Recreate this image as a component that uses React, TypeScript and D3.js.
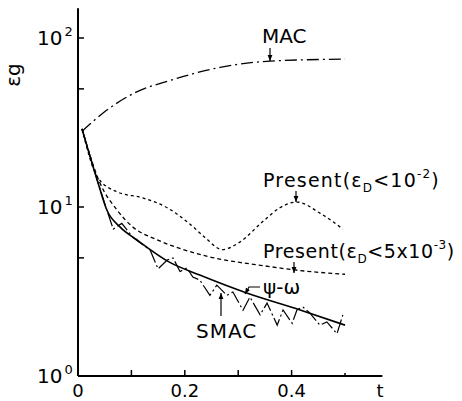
import React from 'react';
import * as d3 from 'd3';

// values: t and eps_g
const macT = [0.0075, 0.047, 0.11, 0.172, 0.266, 0.36, 0.5];
const macV = [28, 36, 48, 56, 67, 73, 75];

const psiT = [0.0075, 0.036, 0.054, 0.079, 0.11, 0.172, 0.228, 0.316, 0.416, 0.5];
const psiV = [29, 14.4, 9.6, 7.6, 6.4, 4.7, 3.96, 3.1, 2.46, 2.0];

const p1T = [0.0075, 0.036, 0.073, 0.122, 0.167, 0.21, 0.238, 0.27, 0.303, 0.346, 0.378, 0.41, 0.453, 0.496];
const p1V = [29, 15.1, 12.3, 11.3, 9.9, 7.9, 6.6, 5.6, 6.2, 8.2, 9.9, 10.7, 9.2, 7.4];

const p2T = [0.0075, 0.041, 0.073, 0.103, 0.148, 0.197, 0.247, 0.303, 0.346, 0.406, 0.5];
const p2V = [29, 13.9, 9.6, 7.6, 6.4, 5.6, 5.06, 4.7, 4.5, 4.24, 4.0];

const smacT = [0.0075, 0.036, 0.054, 0.066, 0.082, 0.103, 0.135, 0.15, 0.167, 0.178, 0.191, 0.204, 0.215, 0.228,
  0.247, 0.26, 0.279, 0.29, 0.309, 0.322, 0.341, 0.354, 0.373, 0.384, 0.401, 0.41, 0.421, 0.434, 0.453, 0.466, 0.485, 0.496];
const smacV = [29, 14.4, 9.6, 7.4, 8.0, 6.6, 5.57, 4.3, 4.86, 5.0, 4.15, 4.36, 3.85, 3.7,
  3.0, 3.45, 3.0, 3.14, 2.45, 2.93, 2.3, 2.7, 2.0, 2.46, 2.05, 2.46, 2.56, 2.36, 2.0, 2.09, 1.78, 2.3];

const xTicks = [0.1, 0.2, 0.3, 0.4, 0.5];
const xTickLabels = ['0', '0.2', '0.4'];
const yTicks = [5, 10, 50, 100];
const yDecades = [['10', '0'], ['10', '1'], ['10', '2']];

const W = 462, H = 401;
const font = '"DejaVu Sans", sans-serif';

export default function App() {
  const x = d3.scaleLinear().domain([0, 0.5]).range([78, 345]);
  const y = d3.scaleLog().domain([1, 100]).range([376, 38]);

  const mk = (ts: number[], vs: number[], curve: d3.CurveFactory) =>
    d3.line<number>().x((d, i) => x(ts[i])).y((d) => y(d)).curve(curve)(vs) as string;

  const xEnd = 0.57, yTop = 150;

  return (
    <svg width={W} height={H} style={{ position: 'absolute', left: 0, top: 0, background: '#fff' }}
      fontFamily={font}>
      <defs>
        <marker id="ah" viewBox="0 0 10 10" refX="10" refY="5" markerWidth="5" markerHeight="5" orient="auto">
          <path d="M0,1 L10,5 L0,9 z" fill="#000" />
        </marker>
      </defs>

      {/* axes */}
      <line x1={x(0)} x2={x(0)} y1={y(1)} y2={y(yTop)} stroke="#000" strokeWidth={2} />
      <line x1={x(0)} x2={x(xEnd)} y1={y(1)} y2={y(1)} stroke="#000" strokeWidth={2} />
      {xTicks.map((t) => (
        <line key={t} x1={x(t)} x2={x(t)} y1={y(1)} y2={y(1) - (t === 0.5 ? 3 : 6)} stroke="#000" strokeWidth={1.5} />
      ))}
      {yTicks.map((v) => (
        <line key={v} x1={x(0)} x2={x(0) + 6} y1={y(v)} y2={y(v)} stroke="#000" strokeWidth={1.5} />
      ))}
      {xTickLabels.map((l) => (
        <text key={l} x={x(+l)} y={397} textAnchor="middle" fontSize={18}>{l}</text>
      ))}
      <text x={380} y={397} textAnchor="middle" fontSize={18}>t</text>
      {yDecades.map(([b, e], i) => (
        <text key={i} x={37} y={y(Math.pow(10, i)) + 7} fontSize={20}>
          {b}<tspan fontSize={13} dy={-9} dx={2}>{e}</tspan>
        </text>
      ))}
      <text transform="translate(20,75) rotate(-90)" textAnchor="middle" fontSize={20}>
        ε<tspan fontSize={20}>g</tspan>
      </text>

      {/* curves */}
      <g fill="none" stroke="#000">
        <path d={mk(macT, macV, d3.curveMonotoneX)} strokeWidth={1.3} strokeDasharray="12,4,2,4" />
        <path d={mk(p1T, p1V, d3.curveMonotoneX)} strokeWidth={1.3} strokeDasharray="3,3" />
        <path d={mk(p2T, p2V, d3.curveMonotoneX)} strokeWidth={1.3} strokeDasharray="4,3" />
        <path d={mk(smacT, smacV, d3.curveLinear)} strokeWidth={1.2} strokeDasharray="14,3,2,3" />
        <path d={mk(psiT, psiV, d3.curveMonotoneX)} strokeWidth={1.6} />
      </g>

      {/* annotations */}
      <g stroke="#000" strokeWidth={1.2} fill="none">
        <line x1={270} x2={270} y1={48} y2={61} markerEnd="url(#ah)" />
        <line x1={296} x2={296} y1={191} y2={202} markerEnd="url(#ah)" />
        <line x1={294} x2={294} y1={262} y2={273} markerEnd="url(#ah)" />
        <path d="M260,287 L249,287 L245,294" markerEnd="url(#ah)" />
        <line x1={221} x2={221} y1={316} y2={293} markerEnd="url(#ah)" />
      </g>
      <text x={262} y={43} fontSize={20}>MAC</text>
      <text x={263} y={187} fontSize={19} letterSpacing={1.2}>
        Present(ε<tspan fontSize={12} dy={5}>D</tspan><tspan dy={-5}>&lt;10</tspan>
        <tspan fontSize={12} dy={-9}>-2</tspan><tspan dy={9}>)</tspan>
      </text>
      <text x={263} y={258} fontSize={19} letterSpacing={0.6}>
        Present(ε<tspan fontSize={12} dy={5}>D</tspan><tspan dy={-5}>&lt;5x10</tspan>
        <tspan fontSize={12} dy={-9}>-3</tspan><tspan dy={9}>)</tspan>
      </text>
      <text x={263} y={294} fontSize={20}>ψ-ω</text>
      <text x={196} y={338} fontSize={20} letterSpacing={1}>SMAC</text>
    </svg>
  );
}
